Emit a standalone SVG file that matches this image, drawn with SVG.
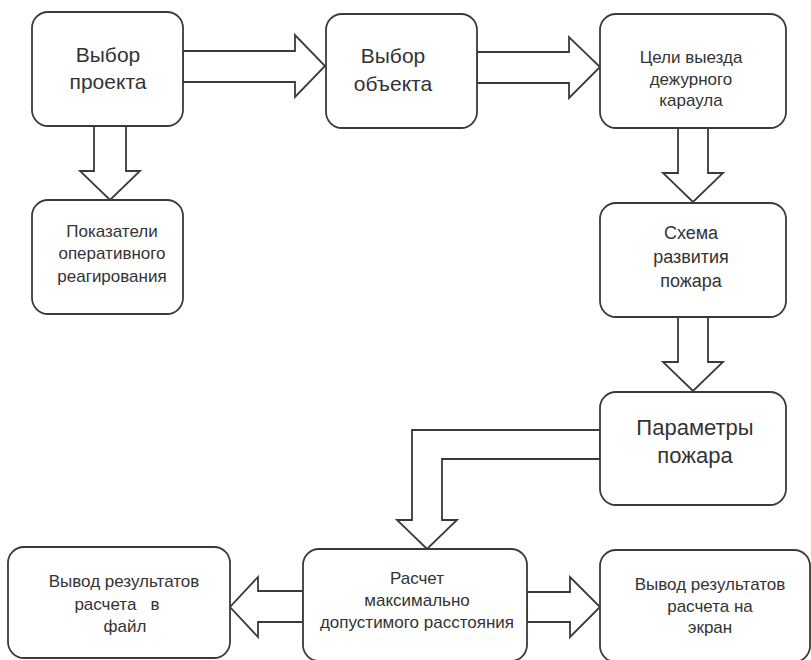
<svg xmlns="http://www.w3.org/2000/svg" width="811" height="660" viewBox="0 0 811 660">
<style>
.box{fill:#fff;stroke:#3a3a3a;stroke-width:1.8}
.arr{fill:#fff;stroke:#3a3a3a;stroke-width:1.8;stroke-linejoin:miter}
text{font-family:"Liberation Sans",Arial,sans-serif;fill:#333;text-anchor:middle}
.big{font-size:21px}
.mid{font-size:17px}
</style>
<rect width="811" height="660" fill="#fff"/>
<g id="connectors">
<polygon class="arr" points="183,51 295,51 295,35 325,66 295,97 295,82 183,82"/>
<polygon class="arr" points="477,52 569,52 569,37 600,67 569,98 569,83 477,83"/>
<polygon class="arr" points="94,126 94,171 80,171 110,200 140,171 126,171 126,126"/>
<polygon class="arr" points="678,128 678,173 663,173 693,202 723,173 708,173 708,128"/>
<polygon class="arr" points="678,317 678,362 663,362 693,391 723,362 708,362 708,317"/>
<polygon class="arr" points="600,430 412,430 412,520 397,520 427,549 457,520 442,520 442,459 600,459"/>
<polygon class="arr" points="303,591 258,591 258,577 230,607 258,637 258,622 303,622"/>
<polygon class="arr" points="527,592 570,592 570,577 600,607 570,637 570,622 527,622"/>
</g>
<g id="n1"><rect class="box" x="32" y="12" width="151" height="114" rx="16"/>
<text class="big" x="108" y="62">Выбор</text><text class="big" x="108" y="89">проекта</text></g>
<g id="n2"><rect class="box" x="326" y="14" width="151" height="114" rx="16"/>
<text class="big" x="393" y="63">Выбор</text><text class="big" x="393" y="91">объекта</text></g>
<g id="n3"><rect class="box" x="600" y="14" width="186" height="114" rx="16"/>
<text class="mid" x="691" y="63">Цели выезда</text><text class="mid" x="691" y="85">дежурного</text><text class="mid" x="691" y="106">караула</text></g>
<g id="n4"><rect class="box" x="32" y="200" width="151" height="114" rx="16"/>
<text class="mid" x="112" y="237">Показатели</text><text class="mid" x="112" y="259">оперативного</text><text class="mid" x="112" y="282">реагирования</text></g>
<g id="n5"><rect class="box" x="600" y="203" width="186" height="114" rx="16"/>
<text font-size="18" x="691" y="239">Схема</text><text font-size="18" x="691" y="263">развития</text><text font-size="18" x="691" y="287">пожара</text></g>
<g id="n6"><rect class="box" x="600" y="392" width="186" height="113" rx="16"/>
<text font-size="22" x="695" y="435">Параметры</text><text font-size="22" x="695" y="463">пожара</text></g>
<g id="n7"><rect class="box" x="303" y="549" width="224" height="112" rx="16"/>
<text class="mid" x="417" y="584">Расчет</text><text class="mid" x="417" y="606">максимально</text><text class="mid" x="417" y="628">допустимого расстояния</text></g>
<g id="n8"><rect class="box" x="8" y="547" width="222" height="111" rx="16"/>
<text class="mid" x="124" y="587">Вывод результатов</text><text class="mid" x="117" y="610" xml:space="preserve">расчета   в</text><text class="mid" x="125" y="632">файл</text></g>
<g id="n9"><rect class="box" x="600" y="550" width="210" height="112" rx="16"/>
<text class="mid" x="710" y="590">Вывод результатов</text><text class="mid" x="710" y="612">расчета на</text><text class="mid" x="710" y="633">экран</text></g>
</svg>
